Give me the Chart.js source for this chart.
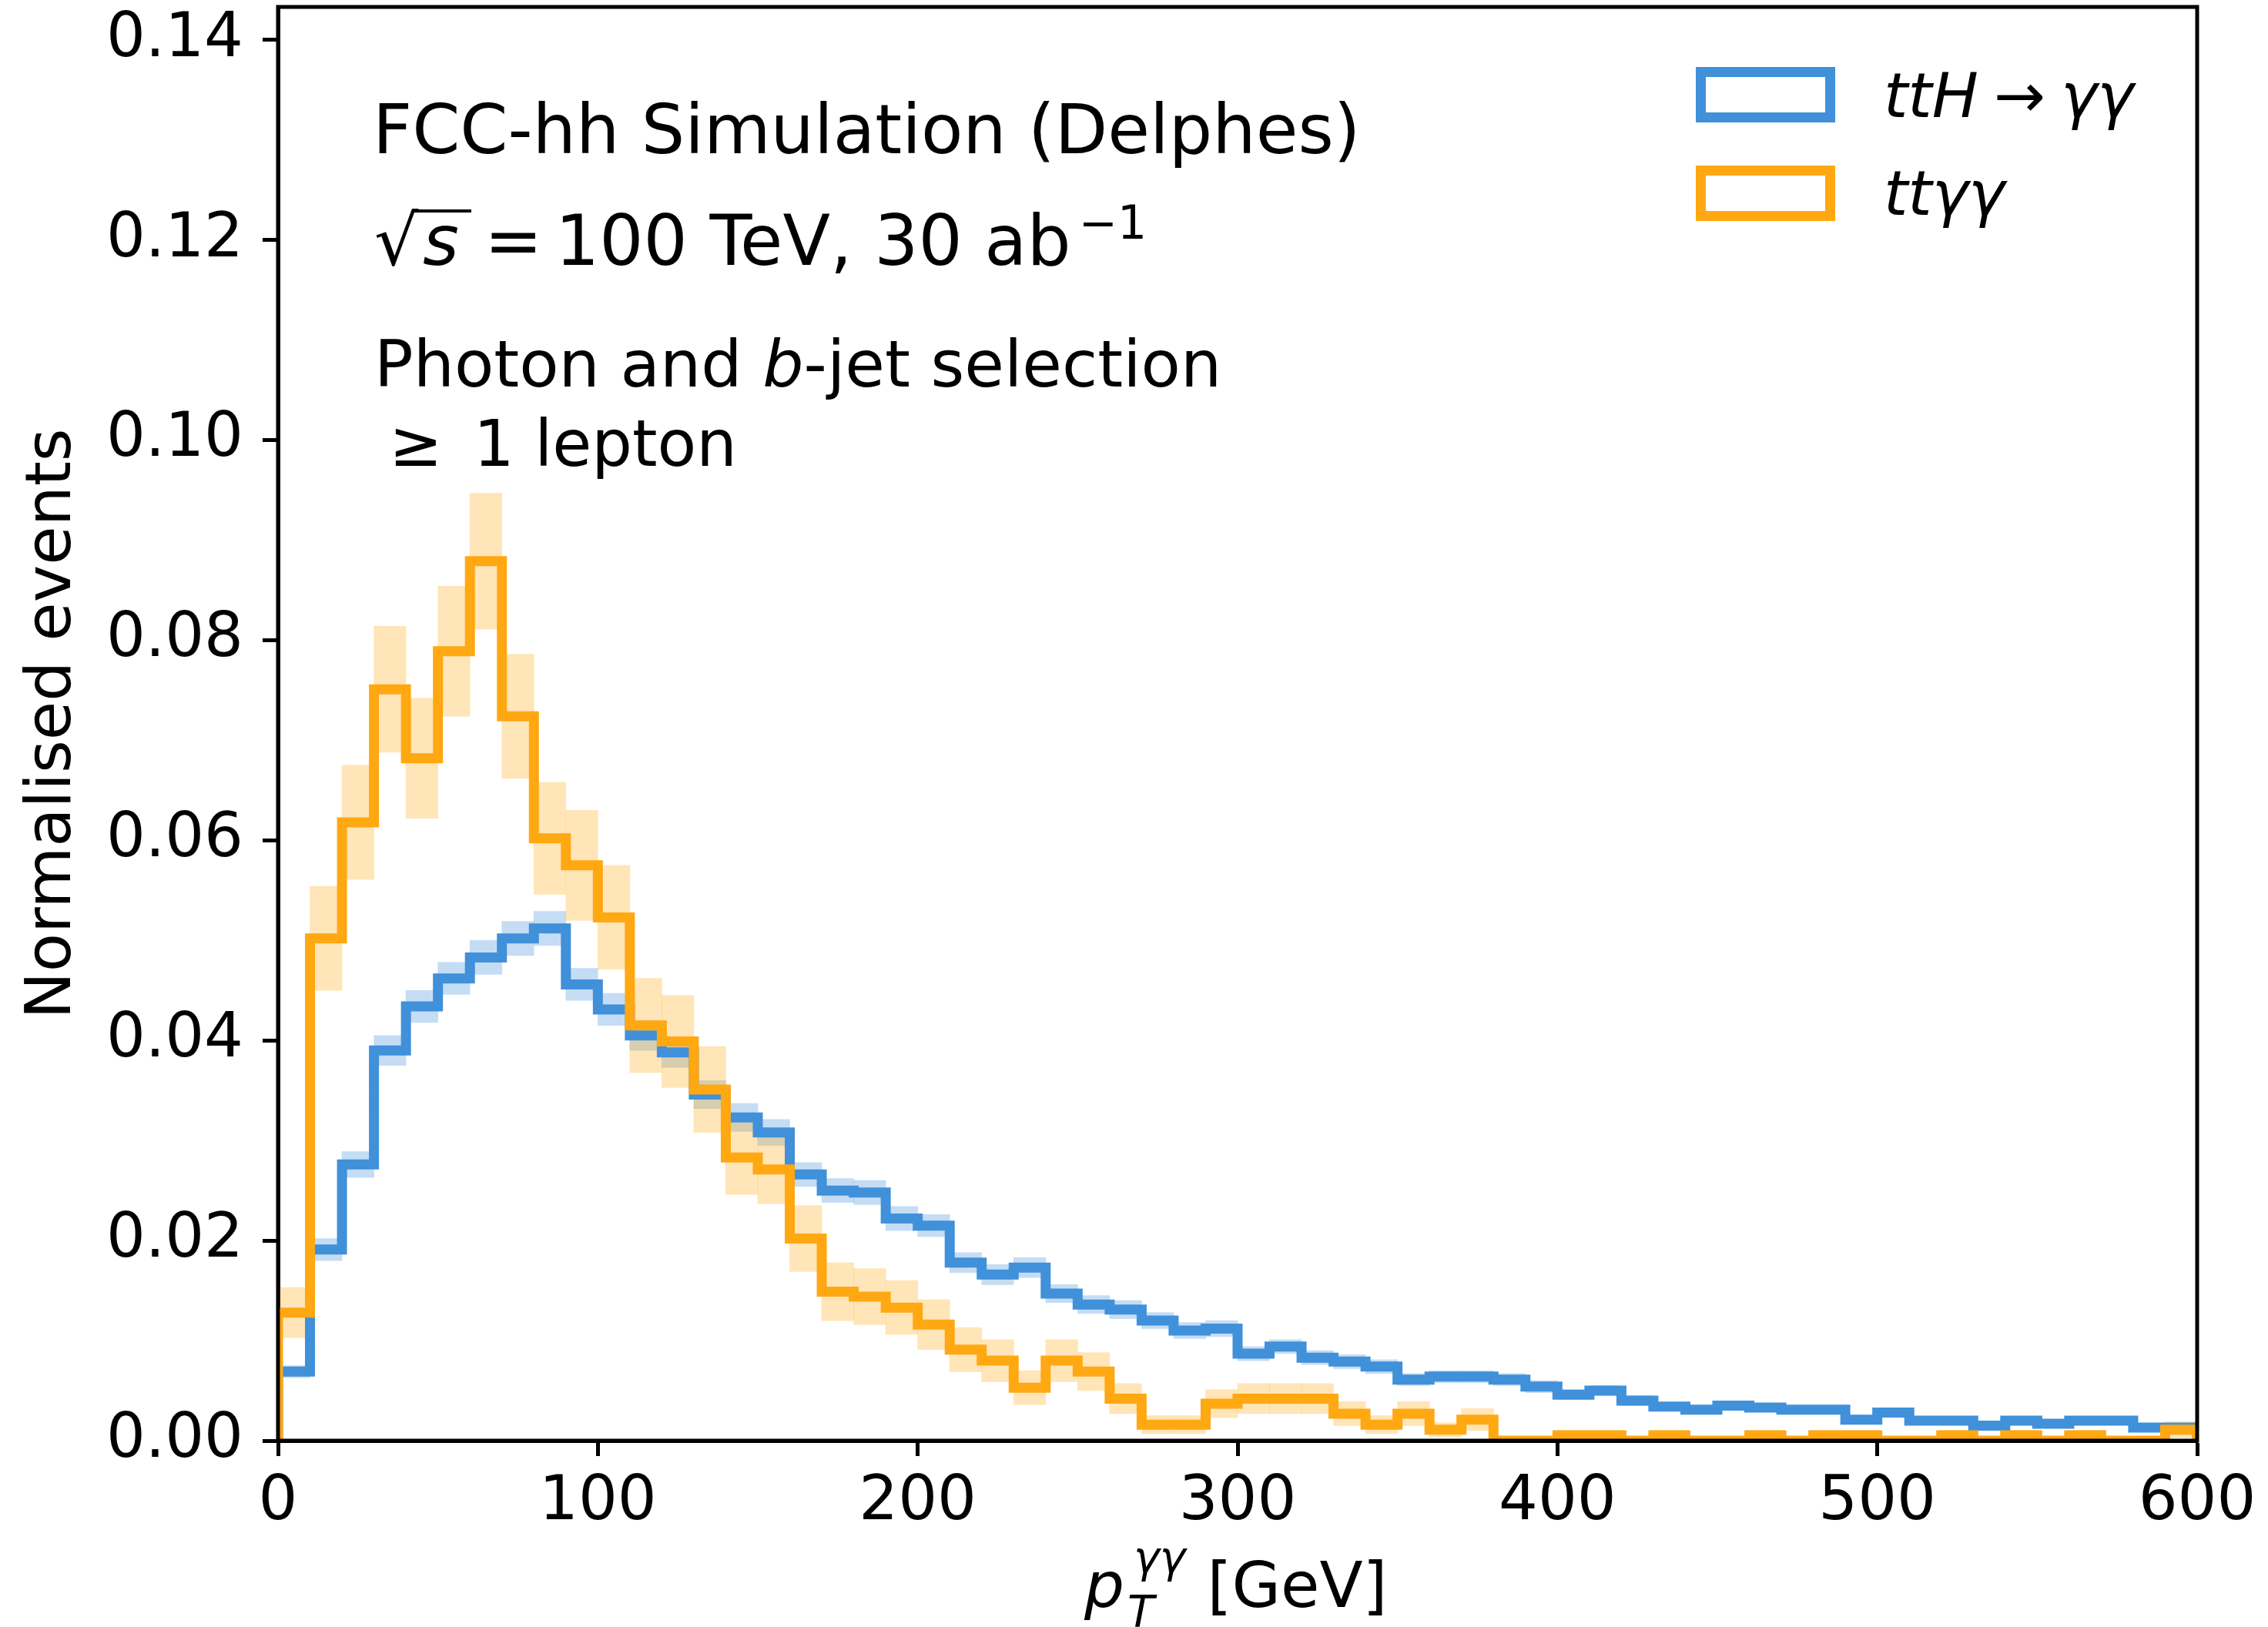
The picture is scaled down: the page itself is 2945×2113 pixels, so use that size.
<!DOCTYPE html>
<html>
<head>
<meta charset="utf-8">
<script src="https://cdn.jsdelivr.net/npm/chart.js@4.4.1/dist/chart.umd.min.js"></script>
<style>
  html, body { margin: 0; padding: 0; background: #fff; }
  #wrap { width: 2945px; height: 2113px; }
</style>
</head>
<body>
<div id="wrap"><canvas id="ptChart" width="2945" height="2113"></canvas></div>
<script>
// Normalised pT(γγ) distributions, 10 GeV bins from 0 to 600 GeV

const binEdges = Array.from({ length: 61 }, (_, i) => i * 10);
const xTicks = [0, 100, 200, 300, 400, 500, 600];
const yTicks = [0, 0.02, 0.04, 0.06, 0.08, 0.10, 0.12, 0.14];

// ttH -> γγ
const tthValues = [
  0.0069, 0.0191, 0.0276, 0.0390, 0.0434, 0.0462, 0.0483, 0.0502, 0.0512, 0.0456,
  0.0431, 0.0405, 0.0388, 0.0346, 0.0323, 0.0308, 0.0266, 0.0250, 0.0248, 0.0222,
  0.0215, 0.0178, 0.0166, 0.0173, 0.0147, 0.0136, 0.0131, 0.0120, 0.0110, 0.0112,
  0.0087, 0.0094, 0.0083, 0.0079, 0.0074, 0.0061, 0.0064, 0.0064, 0.0061, 0.0054,
  0.0046, 0.0050, 0.0040, 0.0034, 0.0031, 0.0035, 0.0033, 0.0031, 0.0031, 0.0021,
  0.0028, 0.0020, 0.0020, 0.0015, 0.0020, 0.0017, 0.0020, 0.0020, 0.0013, 0.0013
];
const tthErrors = [
  0.0006, 0.0011, 0.0013, 0.0015, 0.0016, 0.0016, 0.0017, 0.0017, 0.0017, 0.0016,
  0.0016, 0.0015, 0.0015, 0.0014, 0.0014, 0.0013, 0.0012, 0.0012, 0.0012, 0.0012,
  0.0011, 0.0010, 0.0010, 0.0010, 0.0009, 0.0009, 0.0009, 0.0008, 0.0008, 0.0008,
  0.0007, 0.0007, 0.0007, 0.0007, 0.0007, 0.0006, 0.0006, 0.0006, 0.0006, 0.0006,
  0.0005, 0.0005, 0.0005, 0.0004, 0.0004, 0.0004, 0.0004, 0.0004, 0.0004, 0.0003,
  0.0004, 0.0003, 0.0003, 0.0003, 0.0003, 0.0003, 0.0003, 0.0003, 0.0003, 0.0003
];

// ttγγ
const ttaaValues = [
  0.0128, 0.0502, 0.0618, 0.0751, 0.0682, 0.0789, 0.0879, 0.0724, 0.0602, 0.0575,
  0.0523, 0.0415, 0.0399, 0.0351, 0.0283, 0.0271, 0.0202, 0.0149, 0.0144, 0.0133,
  0.0116, 0.0091, 0.0080, 0.0053, 0.0080, 0.0069, 0.0042, 0.0016, 0.0016, 0.0037,
  0.0042, 0.0042, 0.0042, 0.0027, 0.0016, 0.0027, 0.0011, 0.0021, 0, 0,
  0.00054, 0.00054, 0, 0.00054, 0, 0, 0.00054, 0, 0.00054, 0.00054,
  0, 0, 0.00054, 0, 0.00054, 0, 0.00054, 0, 0, 0.0011
];
const ttaaErrors = [
  0.0025, 0.0052, 0.0057, 0.0063, 0.0060, 0.0065, 0.0068, 0.0062, 0.0056, 0.0055,
  0.0052, 0.0047, 0.0046, 0.0043, 0.0037, 0.0034, 0.0033, 0.0029, 0.0028, 0.0027,
  0.0025, 0.0022, 0.0021, 0.0017, 0.0021, 0.0019, 0.0015, 0.0009, 0.0009, 0.0014,
  0.0015, 0.0015, 0.0015, 0.0012, 0.0009, 0.0012, 0.0007, 0.0011, 0, 0,
  0.0005, 0.0005, 0, 0.0005, 0, 0, 0.0005, 0, 0.0005, 0.0005,
  0, 0, 0.0005, 0, 0.0005, 0, 0.0005, 0, 0, 0.0008
];

const FONT = "'DejaVu Sans', sans-serif";
const BLUE = '#4090da';
const ORANGE = '#ffa812';

// outline of a step histogram: up from 0 at the first edge, down to 0 at the last
function stepPoints(values) {
  const pts = [{ x: binEdges[0], y: 0 }];
  values.forEach((v, i) => pts.push({ x: binEdges[i], y: v }));
  pts.push({ x: binEdges[values.length], y: 0 });
  return pts;
}

function bandBars(values, errors) {
  return values.map((v, i) => ({
    x: (binEdges[i] + binEdges[i + 1]) / 2,
    y: [v - errors[i], v + errors[i]]
  }));
}

function lineSet(label, values, color, order) {
  return {
    type: 'line', label: label, data: stepPoints(values),
    borderColor: color, borderWidth: 13, stepped: 'before',
    pointRadius: 0, fill: false, clip: 0, order: order,
    borderJoinStyle: 'miter', borderCapStyle: 'butt'
  };
}

function bandSet(values, errors, color, order) {
  return {
    type: 'bar', data: bandBars(values, errors),
    backgroundColor: color, borderWidth: 0, order: order,
    barPercentage: 1, categoryPercentage: 1, grouped: false
  };
}

const decorations = {
  id: 'decorations',
  afterDraw(chart) {
    const ctx = chart.ctx;
    const a = chart.chartArea;
    ctx.save();

    // frame
    ctx.strokeStyle = '#000';
    ctx.lineWidth = 5;
    ctx.strokeRect(a.left, a.top, a.right - a.left, a.bottom - a.top);

    ctx.fillStyle = '#000';
    ctx.textBaseline = 'alphabetic';
    ctx.textAlign = 'left';

    // annotation block
    ctx.font = `89px ${FONT}`;
    ctx.fillText('FCC-hh Simulation (Delphes)', 484, 199);

    ctx.font = `90px ${FONT}`;
    ctx.fillText('\u221A', 486, 344);
    ctx.font = `italic 90px ${FONT}`;
    ctx.fillText('s', 549, 344);
    ctx.lineWidth = 4;
    ctx.beginPath();
    ctx.moveTo(536, 274);
    ctx.lineTo(612, 274);
    ctx.stroke();
    ctx.font = `90px ${FONT}`;
    ctx.fillText('=', 629, 344);
    const rest = '100 TeV, 30 ab';
    ctx.fillText(rest, 721, 344);
    const supX = 721 + ctx.measureText(rest).width + 10;
    ctx.font = `60px ${FONT}`;
    ctx.fillText('\u22121', supX, 310);

    ctx.font = `84px ${FONT}`;
    let x = 486;
    ctx.fillText('Photon and ', x, 502);
    x += ctx.measureText('Photon and ').width;
    ctx.font = `italic 84px ${FONT}`;
    ctx.fillText('b', x, 502);
    x += ctx.measureText('b').width;
    ctx.font = `84px ${FONT}`;
    ctx.fillText('-jet selection', x, 502);

    ctx.font = `83px ${FONT}`;
    ctx.fillText('\u2265', 505, 605);
    ctx.fillText('1 lepton', 615, 605);

    // legend
    const legend = [
      { parts: [['ttH', true], ['\u2192', false], ['\u03B3\u03B3', true]], color: BLUE, top: 93.5, base: 152 },
      { parts: [['tt\u03B3\u03B3', true]], color: ORANGE, top: 221.5, base: 279 }
    ];
    legend.forEach(item => {
      ctx.strokeStyle = item.color;
      ctx.lineWidth = 13;
      ctx.strokeRect(2208.5, item.top, 168, 59);
      let lx = 2446;
      item.parts.forEach(([txt, it]) => {
        ctx.font = `${it ? 'italic ' : ''}80px ${FONT}`;
        ctx.fillStyle = '#000';
        ctx.fillText(txt, lx, item.base);
        lx += ctx.measureText(txt).width + 20;
      });
    });

    // x-axis title  p_T^{γγ} [GeV]
    const base = 2087;
    x = (a.left + a.right) / 2 - 199;
    ctx.font = `italic 82px ${FONT}`;
    ctx.fillText('p', x, base);
    x += ctx.measureText('p').width;
    ctx.font = `italic 57px ${FONT}`;
    ctx.fillText('T', x + 4, base + 26);
    ctx.fillText('\u03B3\u03B3', x + 12, base - 45);
    x += Math.max(ctx.measureText('T').width + 4, ctx.measureText('\u03B3\u03B3').width + 12) + 28;
    ctx.font = `82px ${FONT}`;
    ctx.fillText('[GeV]', x, base);

    ctx.restore();
  }
};

const axisCommon = {
  type: 'linear',
  z: 1,
  grid: { drawOnChartArea: false, drawTicks: true, tickLength: 20, tickWidth: 5, tickColor: '#000', offset: false },
  border: { display: true, color: '#000', width: 5 }
};

new Chart(document.getElementById('ptChart'), {
  data: {
    datasets: [
      lineSet('tt\u03B3\u03B3', ttaaValues, ORANGE, 0),
      lineSet('ttH \u2192 \u03B3\u03B3', tthValues, BLUE, 1),
      bandSet(ttaaValues, ttaaErrors, 'rgba(255,168,18,0.3)', 2),
      bandSet(tthValues, tthErrors, 'rgba(64,144,218,0.3)', 3)
    ]
  },
  options: {
    responsive: false,
    animation: false,
    devicePixelRatio: 1,
    layout: { padding: { left: 17, top: 9, right: 92, bottom: 0 } },
    plugins: { legend: { display: false }, tooltip: { enabled: false } },
    scales: {
      x: {
        ...axisCommon,
        min: 0, max: 600, offset: false,
        afterBuildTicks: s => { s.ticks = xTicks.map(v => ({ value: v })); },
        afterFit: s => { s.height = 242; s.paddingLeft = 0; s.paddingRight = 0; },
        ticks: { color: '#000', font: { family: FONT, size: 80 }, padding: 13, maxRotation: 0, autoSkip: false, callback: v => String(v) }
      },
      y: {
        ...axisCommon,
        min: 0, max: 0.1433,
        afterBuildTicks: s => { s.ticks = yTicks.map(v => ({ value: v })); },
        afterFit: s => { s.width = 344; s.paddingTop = 0; s.paddingBottom = 0; },
        ticks: { color: '#000', font: { family: FONT, size: 80 }, padding: 25, autoSkip: false, callback: v => v.toFixed(2) },
        title: { display: true, text: 'Normalised events', color: '#000', font: { family: FONT, size: 82 }, padding: { top: 4, bottom: 0 } }
      }
    }
  },
  plugins: [decorations]
});
</script>
</body>
</html>
